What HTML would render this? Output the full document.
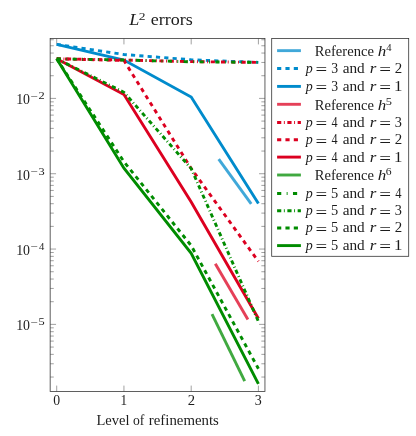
<!DOCTYPE html>
<html><head><meta charset="utf-8"><title>L2 errors</title>
<style>html,body{margin:0;padding:0;background:#fff}svg{display:block}text{font-family:"Liberation Serif",serif;fill:#1c1c1c}</style></head>
<body>
<svg width="416" height="436" viewBox="0 0 416 436">
<rect width="416" height="436" fill="#fff"/>
<path d="M56.7 391.5v-5.9M56.7 38.5v5.9M123.95 391.5v-5.9M123.95 38.5v5.9M191.2 391.5v-5.9M191.2 38.5v5.9M258.4 391.5v-5.9M258.4 38.5v5.9M50.16 98.40h5.9M264.95 98.40h-5.9M50.16 173.73h5.9M264.95 173.73h-5.9M50.16 249.06h5.9M264.95 249.06h-5.9M50.16 324.39h5.9M264.95 324.39h-5.9" stroke="#787878" stroke-width="0.7" fill="none"/>
<path d="M50.16 377.04h3.6M264.95 377.04h-3.6M50.16 363.78h3.6M264.95 363.78h-3.6M50.16 354.37h3.6M264.95 354.37h-3.6M50.16 347.07h3.6M264.95 347.07h-3.6M50.16 341.10h3.6M264.95 341.10h-3.6M50.16 336.06h3.6M264.95 336.06h-3.6M50.16 331.69h3.6M264.95 331.69h-3.6M50.16 327.84h3.6M264.95 327.84h-3.6M50.16 301.71h3.6M264.95 301.71h-3.6M50.16 288.45h3.6M264.95 288.45h-3.6M50.16 279.04h3.6M264.95 279.04h-3.6M50.16 271.74h3.6M264.95 271.74h-3.6M50.16 265.77h3.6M264.95 265.77h-3.6M50.16 260.73h3.6M264.95 260.73h-3.6M50.16 256.36h3.6M264.95 256.36h-3.6M50.16 252.51h3.6M264.95 252.51h-3.6M50.16 226.38h3.6M264.95 226.38h-3.6M50.16 213.12h3.6M264.95 213.12h-3.6M50.16 203.71h3.6M264.95 203.71h-3.6M50.16 196.41h3.6M264.95 196.41h-3.6M50.16 190.44h3.6M264.95 190.44h-3.6M50.16 185.40h3.6M264.95 185.40h-3.6M50.16 181.03h3.6M264.95 181.03h-3.6M50.16 177.18h3.6M264.95 177.18h-3.6M50.16 151.05h3.6M264.95 151.05h-3.6M50.16 137.79h3.6M264.95 137.79h-3.6M50.16 128.38h3.6M264.95 128.38h-3.6M50.16 121.08h3.6M264.95 121.08h-3.6M50.16 115.11h3.6M264.95 115.11h-3.6M50.16 110.07h3.6M264.95 110.07h-3.6M50.16 105.70h3.6M264.95 105.70h-3.6M50.16 101.85h3.6M264.95 101.85h-3.6M50.16 75.72h3.6M264.95 75.72h-3.6M50.16 62.46h3.6M264.95 62.46h-3.6M50.16 53.05h3.6M264.95 53.05h-3.6M50.16 45.75h3.6M264.95 45.75h-3.6M50.16 39.78h3.6M264.95 39.78h-3.6" stroke="#787878" stroke-width="0.7" fill="none"/>
<path d="M218.7 159.2 L251.2 203.8" stroke="#40a8d9" stroke-width="2.9" fill="none" stroke-linejoin="miter"/>
<path d="M56.7 44.4 L123.95 54.5 L191.2 59.8 L258.4 62.4" stroke="#008bcc" stroke-width="2.9" fill="none" stroke-linejoin="miter" stroke-dasharray="4.17 4.17"/>
<path d="M56.7 44.4 L123.95 60.0 L191.2 97.1 L258.4 203.4" stroke="#008bcc" stroke-width="2.9" fill="none" stroke-linejoin="miter"/>
<path d="M215.3 263.8 L247.9 319.4" stroke="#e54058" stroke-width="2.9" fill="none" stroke-linejoin="miter"/>
<path d="M56.7 58.8 L123.95 60.0 L191.2 61.6 L258.4 62.4" stroke="#dc0020" stroke-width="2.9" fill="none" stroke-linejoin="miter" stroke-dasharray="4.17 2.6 0.9 2.6"/>
<path d="M56.7 58.8 L123.95 60.5 L191.2 168.5 L258.4 261.4" stroke="#dc0020" stroke-width="2.9" fill="none" stroke-linejoin="miter" stroke-dasharray="4.17 4.17"/>
<path d="M56.7 58.8 L123.95 94.5 L191.2 202.0 L258.4 318.5" stroke="#dc0020" stroke-width="2.9" fill="none" stroke-linejoin="miter"/>
<path d="M212.0 314.2 L244.7 381.1" stroke="#40a940" stroke-width="2.9" fill="none" stroke-linejoin="miter"/>
<path d="M56.7 58.8 L123.95 60.0 L191.2 61.8 L258.4 62.4" stroke="#008c00" stroke-width="2.9" fill="none" stroke-linejoin="miter" stroke-dasharray="4.17 5.4 0.9 5.4"/>
<path d="M56.7 58.8 L123.95 92.3 L191.2 168.5 L258.4 321.5" stroke="#008c00" stroke-width="2.9" fill="none" stroke-linejoin="miter" stroke-dasharray="4.17 2.6 0.9 2.6"/>
<path d="M56.7 58.8 L123.95 161.8 L191.2 245.6 L258.4 368.7" stroke="#008c00" stroke-width="2.9" fill="none" stroke-linejoin="miter" stroke-dasharray="4.17 4.17"/>
<path d="M56.7 58.8 L123.95 168.2 L191.2 253.3 L258.4 383.8" stroke="#008c00" stroke-width="2.9" fill="none" stroke-linejoin="miter"/>
<rect x="50.16" y="38.5" width="214.79" height="353.0" fill="none" stroke="#383838" stroke-width="0.8"/>
<rect x="271.7" y="38.5" width="137.0" height="217.8" fill="#fff" stroke="#333" stroke-width="0.8"/>
<path d="M277.1 50.65H300.9" stroke="#40a8d9" stroke-width="2.9" fill="none"/>
<path d="M277.1 68.5H300.9" stroke="#008bcc" stroke-width="2.9" fill="none" stroke-dasharray="4.17 4.17"/>
<path d="M277.1 86.4H300.9" stroke="#008bcc" stroke-width="2.9" fill="none"/>
<path d="M277.1 104.3H300.9" stroke="#e54058" stroke-width="2.9" fill="none"/>
<path d="M277.1 122.5H300.9" stroke="#dc0020" stroke-width="2.9" fill="none" stroke-dasharray="4.17 2.6 0.9 2.6"/>
<path d="M277.1 139.8H300.9" stroke="#dc0020" stroke-width="2.9" fill="none" stroke-dasharray="4.17 4.17"/>
<path d="M277.1 157.1H300.9" stroke="#dc0020" stroke-width="2.9" fill="none"/>
<path d="M277.1 175.0H300.9" stroke="#40a940" stroke-width="2.9" fill="none"/>
<path d="M277.1 193.5H300.9" stroke="#008c00" stroke-width="2.9" fill="none" stroke-dasharray="4.17 5.4 0.9 5.4"/>
<path d="M277.1 210.8H300.9" stroke="#008c00" stroke-width="2.9" fill="none" stroke-dasharray="4.17 2.6 0.9 2.6"/>
<path d="M277.1 228.0H300.9" stroke="#008c00" stroke-width="2.9" fill="none" stroke-dasharray="4.17 4.17"/>
<path d="M277.1 245.6H300.9" stroke="#008c00" stroke-width="2.9" fill="none"/>
<g opacity="0.999">
<text transform="translate(129.14 25.00) scale(1.094 1.0)" font-size="16.6" font-style="italic">L</text>
<text transform="translate(138.76 19.90) scale(1.271 1.0)" font-size="10.6">2</text>
<text transform="translate(150.72 25.00) scale(1.085 1.0)" font-size="16.6">errors</text>
<text transform="translate(96.41 424.60) scale(1.046 1.0)" font-size="13.89">Level</text>
<text transform="translate(133.01 424.60) scale(0.982 1.0)" font-size="13.89">of</text>
<text transform="translate(148.83 424.60) scale(1.069 1.0)" font-size="13.89">refinements</text>
<text transform="translate(53.31 405.00) scale(0.987 1.0)" font-size="13.89">0</text>
<text transform="translate(120.47 405.00) scale(0.944 1.0)" font-size="13.89">1</text>
<text transform="translate(187.64 405.00) scale(1.055 1.0)" font-size="13.89">2</text>
<text transform="translate(254.87 405.00) scale(1.009 1.0)" font-size="13.89">3</text>
<text transform="translate(16.15 104.20) scale(0.998 1.0)" font-size="13.89">10</text>
<text transform="translate(30.62 99.80) scale(1.356 1.0)" font-size="9.7">−</text>
<text transform="translate(38.60 99.20) scale(1.333 1.0)" font-size="9.3">2</text>
<text transform="translate(16.15 179.53) scale(0.998 1.0)" font-size="13.89">10</text>
<text transform="translate(30.62 175.13) scale(1.356 1.0)" font-size="9.7">−</text>
<text transform="translate(38.43 174.53) scale(1.333 1.0)" font-size="9.3">3</text>
<text transform="translate(16.15 254.86) scale(0.998 1.0)" font-size="13.89">10</text>
<text transform="translate(30.62 250.46) scale(1.356 1.0)" font-size="9.7">−</text>
<text transform="translate(38.96 249.86) scale(1.143 1.0)" font-size="9.3">4</text>
<text transform="translate(16.15 330.19) scale(0.998 1.0)" font-size="13.89">10</text>
<text transform="translate(30.62 325.79) scale(1.356 1.0)" font-size="9.7">−</text>
<text transform="translate(38.43 325.19) scale(1.333 1.0)" font-size="9.3">5</text>
<text transform="translate(314.81 56.10) scale(1.051 1.0)" font-size="13.89">Reference</text>
<text transform="translate(377.69 56.10) scale(1.226 1.0)" font-size="13.89" font-style="italic">h</text>
<text transform="translate(386.16 51.10) scale(1.143 1.0)" font-size="9.3">4</text>
<text transform="translate(305.86 72.95) scale(1.007 1.0)" font-size="13.89" font-style="italic">p</text>
<text transform="translate(315.48 75.25) scale(1.490 1.2)" font-size="13.89">=</text>
<text transform="translate(331.18 72.95) scale(0.991 1.0)" font-size="13.89">3</text>
<text transform="translate(342.65 72.95) scale(1.099 1.0)" font-size="13.89">and</text>
<text transform="translate(369.84 72.95) scale(1.221 1.0)" font-size="13.89" font-style="italic">r</text>
<text transform="translate(379.37 75.25) scale(1.506 1.2)" font-size="13.89">=</text>
<text transform="translate(394.83 72.95) scale(1.073 1.0)" font-size="13.89">2</text>
<text transform="translate(305.86 90.85) scale(1.007 1.0)" font-size="13.89" font-style="italic">p</text>
<text transform="translate(315.48 93.15) scale(1.490 1.2)" font-size="13.89">=</text>
<text transform="translate(331.18 90.85) scale(0.991 1.0)" font-size="13.89">3</text>
<text transform="translate(342.65 90.85) scale(1.099 1.0)" font-size="13.89">and</text>
<text transform="translate(369.84 90.85) scale(1.221 1.0)" font-size="13.89" font-style="italic">r</text>
<text transform="translate(379.37 93.15) scale(1.506 1.2)" font-size="13.89">=</text>
<text transform="translate(393.99 90.85) scale(1.210 1.0)" font-size="13.89">1</text>
<text transform="translate(314.81 109.75) scale(1.051 1.0)" font-size="13.89">Reference</text>
<text transform="translate(377.69 109.75) scale(1.226 1.0)" font-size="13.89" font-style="italic">h</text>
<text transform="translate(385.63 104.75) scale(1.333 1.0)" font-size="9.3">5</text>
<text transform="translate(305.86 126.95) scale(1.007 1.0)" font-size="13.89" font-style="italic">p</text>
<text transform="translate(315.48 129.25) scale(1.490 1.2)" font-size="13.89">=</text>
<text transform="translate(331.58 126.95) scale(0.877 1.0)" font-size="13.89">4</text>
<text transform="translate(342.65 126.95) scale(1.099 1.0)" font-size="13.89">and</text>
<text transform="translate(369.84 126.95) scale(1.221 1.0)" font-size="13.89" font-style="italic">r</text>
<text transform="translate(379.37 129.25) scale(1.506 1.2)" font-size="13.89">=</text>
<text transform="translate(394.86 126.95) scale(1.026 1.0)" font-size="13.89">3</text>
<text transform="translate(305.86 144.25) scale(1.007 1.0)" font-size="13.89" font-style="italic">p</text>
<text transform="translate(315.48 146.55) scale(1.490 1.2)" font-size="13.89">=</text>
<text transform="translate(331.58 144.25) scale(0.877 1.0)" font-size="13.89">4</text>
<text transform="translate(342.65 144.25) scale(1.099 1.0)" font-size="13.89">and</text>
<text transform="translate(369.84 144.25) scale(1.221 1.0)" font-size="13.89" font-style="italic">r</text>
<text transform="translate(379.37 146.55) scale(1.506 1.2)" font-size="13.89">=</text>
<text transform="translate(394.83 144.25) scale(1.073 1.0)" font-size="13.89">2</text>
<text transform="translate(305.86 161.55) scale(1.007 1.0)" font-size="13.89" font-style="italic">p</text>
<text transform="translate(315.48 163.85) scale(1.490 1.2)" font-size="13.89">=</text>
<text transform="translate(331.58 161.55) scale(0.877 1.0)" font-size="13.89">4</text>
<text transform="translate(342.65 161.55) scale(1.099 1.0)" font-size="13.89">and</text>
<text transform="translate(369.84 161.55) scale(1.221 1.0)" font-size="13.89" font-style="italic">r</text>
<text transform="translate(379.37 163.85) scale(1.506 1.2)" font-size="13.89">=</text>
<text transform="translate(393.99 161.55) scale(1.210 1.0)" font-size="13.89">1</text>
<text transform="translate(314.81 180.45) scale(1.051 1.0)" font-size="13.89">Reference</text>
<text transform="translate(377.69 180.45) scale(1.226 1.0)" font-size="13.89" font-style="italic">h</text>
<text transform="translate(385.83 175.45) scale(1.250 1.0)" font-size="9.3">6</text>
<text transform="translate(305.86 197.95) scale(1.007 1.0)" font-size="13.89" font-style="italic">p</text>
<text transform="translate(315.48 200.25) scale(1.490 1.2)" font-size="13.89">=</text>
<text transform="translate(330.89 197.95) scale(1.036 1.0)" font-size="13.89">5</text>
<text transform="translate(342.65 197.95) scale(1.099 1.0)" font-size="13.89">and</text>
<text transform="translate(369.84 197.95) scale(1.221 1.0)" font-size="13.89" font-style="italic">r</text>
<text transform="translate(379.37 200.25) scale(1.506 1.2)" font-size="13.89">=</text>
<text transform="translate(395.27 197.95) scale(0.908 1.0)" font-size="13.89">4</text>
<text transform="translate(305.86 215.25) scale(1.007 1.0)" font-size="13.89" font-style="italic">p</text>
<text transform="translate(315.48 217.55) scale(1.490 1.2)" font-size="13.89">=</text>
<text transform="translate(330.89 215.25) scale(1.036 1.0)" font-size="13.89">5</text>
<text transform="translate(342.65 215.25) scale(1.099 1.0)" font-size="13.89">and</text>
<text transform="translate(369.84 215.25) scale(1.221 1.0)" font-size="13.89" font-style="italic">r</text>
<text transform="translate(379.37 217.55) scale(1.506 1.2)" font-size="13.89">=</text>
<text transform="translate(394.86 215.25) scale(1.026 1.0)" font-size="13.89">3</text>
<text transform="translate(305.86 232.45) scale(1.007 1.0)" font-size="13.89" font-style="italic">p</text>
<text transform="translate(315.48 234.75) scale(1.490 1.2)" font-size="13.89">=</text>
<text transform="translate(330.89 232.45) scale(1.036 1.0)" font-size="13.89">5</text>
<text transform="translate(342.65 232.45) scale(1.099 1.0)" font-size="13.89">and</text>
<text transform="translate(369.84 232.45) scale(1.221 1.0)" font-size="13.89" font-style="italic">r</text>
<text transform="translate(379.37 234.75) scale(1.506 1.2)" font-size="13.89">=</text>
<text transform="translate(394.83 232.45) scale(1.073 1.0)" font-size="13.89">2</text>
<text transform="translate(305.86 250.05) scale(1.007 1.0)" font-size="13.89" font-style="italic">p</text>
<text transform="translate(315.48 252.35) scale(1.490 1.2)" font-size="13.89">=</text>
<text transform="translate(330.89 250.05) scale(1.036 1.0)" font-size="13.89">5</text>
<text transform="translate(342.65 250.05) scale(1.099 1.0)" font-size="13.89">and</text>
<text transform="translate(369.84 250.05) scale(1.221 1.0)" font-size="13.89" font-style="italic">r</text>
<text transform="translate(379.37 252.35) scale(1.506 1.2)" font-size="13.89">=</text>
<text transform="translate(393.99 250.05) scale(1.210 1.0)" font-size="13.89">1</text>
</g>
</svg>
</body></html>
